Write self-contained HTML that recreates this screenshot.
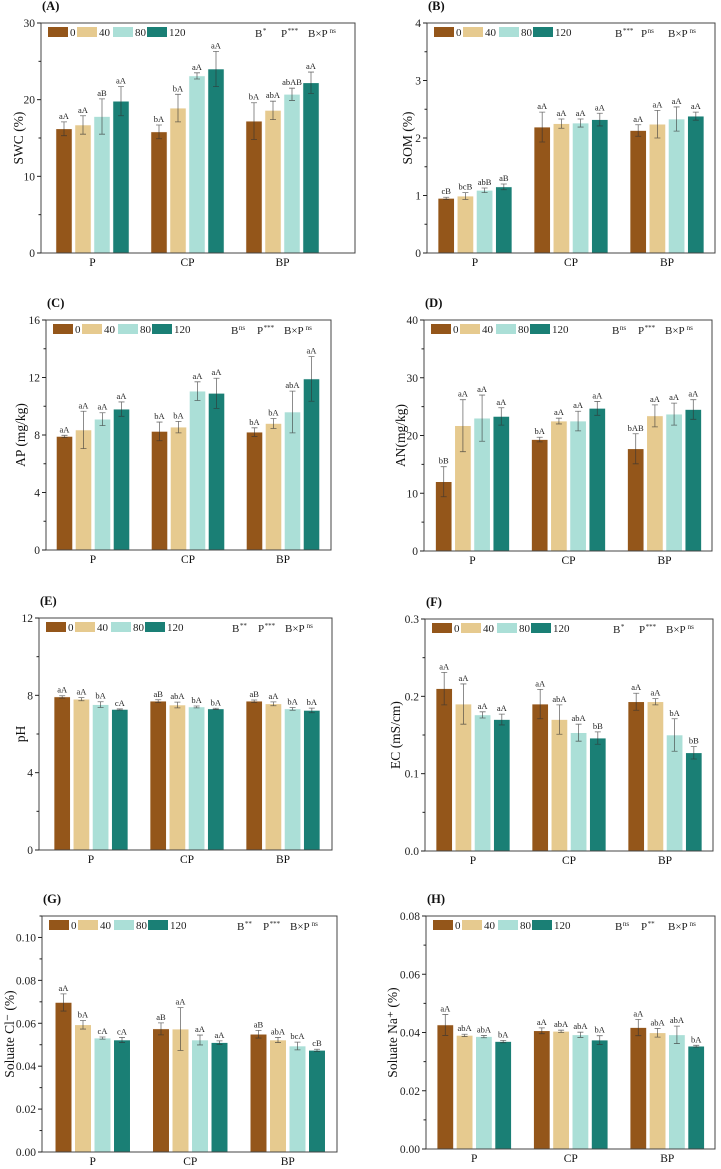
<!DOCTYPE html>
<html><head><meta charset="utf-8">
<style>
html,body{margin:0;padding:0;background:#fff;}
svg{display:block;}
svg text{font-family:"Liberation Serif",serif;}
</style></head>
<body>
<svg id="chart" width="721" height="1169" viewBox="0 0 721 1169" xmlns="http://www.w3.org/2000/svg"></svg>
<script>
const sites = ["P","CP","BP"];
const treatments = ["0","40","80","120"];
const colors = ["#94561a","#e6ca8f","#abdfd7","#1a7f75"];

const swcValues=[[16.2,16.7,17.8,19.8],[15.8,18.9,23.1,24.0],[17.2,18.6,20.7,22.2]];
const swcErrors=[[0.9,1.2,2.3,1.9],[0.9,1.8,0.4,2.3],[2.4,1.2,0.8,1.4]];
const swcLetters=[["aA","aA","aB","aA"],["bA","bA","aA","aA"],["bA","abA","abAB","aA"]];
const swcTicks=["0","10","20","30"];

const somValues=[[0.95,0.99,1.09,1.15],[2.19,2.25,2.26,2.32],[2.13,2.24,2.33,2.38]];
const somErrors=[[0.02,0.06,0.04,0.05],[0.26,0.08,0.07,0.11],[0.1,0.24,0.21,0.07]];
const somLetters=[["cB","bcB","abB","aB"],["aA","aA","aA","aA"],["aA","aA","aA","aA"]];
const somTicks=["0","1","2","3","4"];

const apValues=[[7.9,8.35,9.1,9.8],[8.25,8.55,11.05,10.9],[8.2,8.8,9.6,11.9]];
const apErrors=[[0.08,1.3,0.45,0.5],[0.65,0.4,0.65,1.05],[0.3,0.35,1.45,1.55]];
const apLetters=[["aA","aA","aA","aA"],["bA","bA","aA","aA"],["bA","bA","abA","aA"]];
const apTicks=["0","4","8","12","16"];

const anValues=[[12.0,21.7,23.0,23.3],[19.3,22.5,22.5,24.7],[17.7,23.4,23.7,24.5]];
const anErrors=[[2.6,4.5,4.0,1.5],[0.4,0.5,1.7,1.2],[2.6,1.9,1.9,1.7]];
const anLetters=[["bB","aA","aA","aA"],["bA","aA","aA","aA"],["bAB","aA","aA","aA"]];
const anTicks=["0","10","20","30","40"];

const phValues=[[7.92,7.8,7.52,7.27],[7.7,7.5,7.4,7.3],[7.7,7.56,7.3,7.22]];
const phErrors=[[0.06,0.08,0.15,0.03],[0.07,0.15,0.05,0.03],[0.06,0.1,0.07,0.12]];
const phLetters=[["aA","aA","bA","cA"],["aB","abA","bA","bA"],["aB","aA","bA","bA"]];
const phTicks=["0","4","8","12"];

const ecValues=[[0.21,0.19,0.176,0.17],[0.19,0.17,0.153,0.146],[0.193,0.193,0.15,0.127]];
const ecErrors=[[0.021,0.026,0.004,0.007],[0.019,0.019,0.011,0.008],[0.011,0.004,0.021,0.008]];
const ecLetters=[["aA","aA","aA","aA"],["aA","abA","abA","bB"],["aA","aA","bA","bB"]];
const ecTicks=["0.0","0.1","0.2","0.3"];

const clValues=[[0.0697,0.0593,0.0531,0.0522],[0.0574,0.0573,0.0522,0.051],[0.0549,0.0522,0.0494,0.0474]];
const clErrors=[[0.004,0.002,0.0005,0.0012],[0.0028,0.01,0.0023,0.0008],[0.0018,0.0012,0.0018,0.0005]];
const clLetters=[["aA","bA","cA","cA"],["aB","aA","aA","aA"],["aB","abA","bcA","cB"]];
const clTicks=["0.00","0.02","0.04","0.06","0.08","0.10"];

const naValues=[[0.0426,0.039,0.0386,0.0369],[0.0406,0.0404,0.0392,0.0374],[0.0417,0.0399,0.0392,0.0353]];
const naErrors=[[0.0036,0.0004,0.0004,0.0004],[0.001,0.0004,0.0009,0.0015],[0.0028,0.0015,0.003,0.0003]];
const naLetters=[["aA","abA","abA","bA"],["aA","abA","abA","bA"],["aA","abA","abA","bA"]];
const naTicks=["0.00","0.02","0.04","0.06","0.08"];

const panels=[
 {id:"A",v:swcValues,e:swcErrors,l:swcLetters,t:swcTicks,step:10,max:30,L:41,R:355,T:23,B:253,x0:45,u:95,tx:18,title:"SWC (%)",sig:["B","*","P","***","B×P ","ns"]},
 {id:"B",v:somValues,e:somErrors,l:somLetters,t:somTicks,step:1,max:4,L:427,R:715,T:23,B:253,x0:427,u:96,tx:407,title:"SOM (%)",sig:["B","***","P ","ns","B×P ","ns"]},
 {id:"C",v:apValues,e:apErrors,l:apLetters,t:apTicks,step:4,max:16,L:46,R:331,T:320,B:550,x0:45.5,u:95,tx:20,title:"AP (mg/kg)",sig:["B","ns","P","***","B×P ","ns"]},
 {id:"D",v:anValues,e:anErrors,l:anLetters,t:anTicks,step:10,max:40,L:424,R:712,T:320,B:551,x0:424.5,u:96,tx:400,title:"AN(mg/kg)",sig:["B","ns","P","***","B×P ","ns"]},
 {id:"E",v:phValues,e:phErrors,l:phLetters,t:phTicks,step:4,max:12,L:39,R:332,T:618,B:850,x0:43,u:96,tx:20,title:"pH",sig:["B","**","P","***","B×P ","ns"]},
 {id:"F",v:ecValues,e:ecErrors,l:ecLetters,t:ecTicks,step:0.1,max:0.3,L:425,R:713,T:619,B:851,x0:425,u:96,tx:395,title:"EC (mS/cm)",sig:["B","*","P","***","B×P ","ns"]},
 {id:"G",v:clValues,e:clErrors,l:clLetters,t:clTicks,step:0.02,max:0.11,L:42,R:337,T:916,B:1152,x0:44,u:97.5,tx:9,title:"Soluate Cl\u207B (%)",sig:["B","**","P","***","B×P ","ns"]},
 {id:"H",v:naValues,e:naErrors,l:naLetters,t:naTicks,step:0.02,max:0.08,L:426,R:715,T:916,B:1149,x0:426,u:96.5,tx:392,title:"Soluate Na\u207A (%)",sig:["B","ns","P","**","B×P ","ns"]}
];

const NS="http://www.w3.org/2000/svg";
const svg=document.getElementById("chart");
function mk(tag,attrs,parent){const el=document.createElementNS(NS,tag);for(const k in attrs)el.setAttribute(k,attrs[k]);(parent||svg).appendChild(el);return el;}

panels.forEach(p=>{
  const g=mk("g",{});
  
  
  const ys=v=>p.B-(v/p.max)*(p.B-p.T);
  const xs=c=>p.x0+(c+0.5)*p.u;
  const pl=mk("text",{x:p.L+1,y:p.T-13,"font-size":"12.5","font-weight":"bold",fill:"#111"},g);
  pl.textContent="("+p.id+")";
  
  
  const bw=p.u*0.17, st=p.u*0.2;
  p.v.forEach((grp,si)=>{
    grp.forEach((val,ti)=>{
      const cx=xs(si)+(ti-1.5)*st;
      const r=mk("rect",{x:cx-bw/2,y:ys(val),width:bw,height:ys(0)-ys(val),fill:colors[ti],stroke:"#fff","stroke-width":"0.6"},g);
      
      
      const er=p.e[si][ti], y1=ys(val+er), y2=ys(val-er);
      const eb=mk("path",{d:`M${cx},${y1}V${y2}M${cx-3},${y1}H${cx+3}M${cx-3},${y2}H${cx+3}`,stroke:"#333","stroke-opacity":"0.7","stroke-width":"0.8",fill:"none"},g);
      
      
      const lt=mk("text",{x:cx,y:y1-3,"font-size":"8.5","text-anchor":"middle",fill:"#222"},g);
      lt.textContent=p.l[si][ti];
      
      
    });
    const xl=mk("text",{x:xs(si),y:p.B+13,"font-size":"11.5","text-anchor":"middle",fill:"#111"},g);
    xl.textContent=sites[si];
    
    
  });
  const fr=mk("rect",{x:p.L,y:p.T,width:p.R-p.L,height:p.B-p.T,fill:"none",stroke:"#444","stroke-width":"1"},g);
  
  
  p.t.forEach((lab,i)=>{
    const v=i*p.step, y=ys(v);
    mk("line",{x1:p.L-4,x2:p.L,y1:y,y2:y,stroke:"#222","stroke-width":"1"},g);
    const hv=v+p.step/2;
    if(hv<=p.max+1e-9){const yh=ys(hv);mk("line",{x1:p.L-2.5,x2:p.L,y1:yh,y2:yh,stroke:"#222","stroke-width":"1"},g);}
    const tl=mk("text",{x:p.L-6,y:y+4,"font-size":"11.5","text-anchor":"end",fill:"#222"},g);
    tl.textContent=lab;
    
    
  });
  const cy=(p.T+p.B)/2;
  const yt=mk("text",{x:p.tx,y:cy+5,"font-size":"13.5","text-anchor":"middle",fill:"#111",transform:`rotate(-90 ${p.tx} ${cy})`},g);
  yt.textContent=p.title;
  
  
  const lg=mk("g",{},g);
  
  
  const offs=[7,36,72,106];
  treatments.forEach((t,i)=>{
    const bx=p.L+offs[i];
    const lr=mk("rect",{x:bx,y:p.T+4,width:20,height:10,fill:colors[i]},lg);
    
    
    const ltx=mk("text",{x:bx+22,y:p.T+13,"font-size":"11",fill:"#222"},lg);
    ltx.textContent=t;
    
    
  });
  // significance: three separately positioned parts
  const sg=mk("g",{},g);
  
  
  const starts=[p.R-100,p.R-74,p.R-47];
  for(let i=0;i<3;i++){
    const tx=mk("text",{x:starts[i],y:p.T+14,"font-size":"11",fill:"#222"},sg);
    const a=mk("tspan",{},tx);a.textContent=p.sig[2*i].trim();
    const b=mk("tspan",{"font-size":"7",dy:"-4",dx:i==2?"2":"0.5"},tx);b.textContent=p.sig[2*i+1];
  }
});
</script>
</body></html>
